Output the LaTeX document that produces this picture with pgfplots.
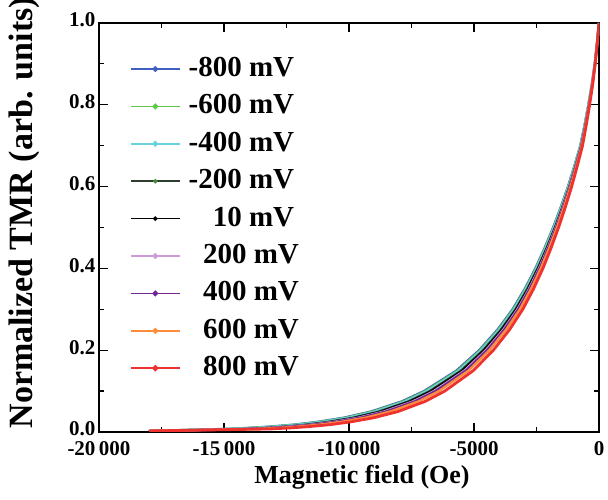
\documentclass[border=0pt]{standalone}
\usepackage{fontspec}
\setmainfont{Liberation Serif}
\usepackage{pgfplots}
\usepackage{pgfplotstable}
\pgfplotsset{compat=1.18}

\definecolor{cA}{RGB}{65,95,195}
\definecolor{cB}{RGB}{95,200,75}
\definecolor{cC}{RGB}{105,210,222}
\definecolor{cD}{RGB}{45,60,45}
\definecolor{cE}{RGB}{0,0,0}
\definecolor{cF}{RGB}{205,155,215}
\definecolor{cG}{RGB}{115,40,145}
\definecolor{cH}{RGB}{255,140,60}
\definecolor{cI}{RGB}{238,50,48}

% y, then field (Oe) of each bias: -800,-600,-400,-200,10,200,400,600,800 mV
\pgfplotstableread{
y      a      b      c      d      e      f      g      h      i
1.000  0      0      0      0      0      0      0      0      0
0.950  -80    -79    -78    -77    -77    -75    -74    -73    -70
0.900  -170   -168   -166   -165   -163   -160   -158   -155   -150
0.850  -286   -284   -281   -278   -275   -270   -267   -262   -252
0.800  -424   -420   -416   -412   -408   -400   -396   -388   -374
0.750  -578   -572   -567   -561   -556   -545   -540   -529   -510
0.700  -747   -740   -733   -726   -719   -705   -698   -684   -659
0.650  -986   -977   -967   -958   -949   -930   -921   -902   -870
0.600  -1240  -1229  -1217  -1205  -1193  -1170  -1158  -1135  -1094
0.550  -1526  -1512  -1498  -1483  -1469  -1440  -1426  -1397  -1346
0.500  -1834  -1817  -1799  -1782  -1765  -1730  -1713  -1678  -1618
0.450  -2173  -2153  -2132  -2112  -2091  -2050  -2030  -1989  -1917
0.400  -2544  -2520  -2496  -2472  -2448  -2400  -2376  -2328  -2244
0.350  -2968  -2940  -2912  -2884  -2856  -2800  -2772  -2716  -2618
0.300  -3456  -3423  -3390  -3358  -3325  -3260  -3227  -3162  -3048
0.250  -4060  -4022  -3983  -3945  -3907  -3830  -3792  -3715  -3581
0.200  -4791  -4746  -4701  -4656  -4610  -4520  -4475  -4384  -4226
0.150  -5703  -5649  -5595  -5541  -5488  -5380  -5326  -5219  -5030
0.100  -6996  -6930  -6864  -6798  -6732  -6600  -6534  -6402  -6171
0.075  -7876  -7802  -7727  -7653  -7579  -7430  -7356  -7207  -6947
0.050  -9116  -9030  -8944  -8858  -8772  -8600  -8514  -8342  -8041
0.035  -10197 -10101 -10005 -9909  -9812  -9620  -9524  -9331  -8995
0.025  -11225 -11120 -11014 -10908 -10802 -10590 -10484 -10272 -9902
0.018  -12190 -12075 -11960 -11845 -11730 -11500 -11385 -11155 -10753
0.013  -13197 -13073 -12948 -12824 -12699 -12450 -12326 -12077 -11641
0.010  -13992 -13860 -13728 -13596 -13464 -13200 -13068 -12804 -12342
0.0075 -14893 -14753 -14612 -14472 -14331 -14050 -13910 -13629 -13137
0.0025 -18000 -18000 -18000 -18000 -18000 -18000 -18000 -18000 -18000
}\tmrdata

\begin{document}
\begin{tikzpicture}
\path[use as bounding box, clip] (0bp,0bp) rectangle (608bp,500bp);
\begin{axis}[
  at={(99bp,68bp)}, anchor=south west,
  scale only axis, width=500bp, height=409bp,
  xmin=-20000, xmax=0, ymin=0, ymax=1,
  scaled x ticks=false, scaled y ticks=false,
  axis line style={line width=1.4bp},
  every tick/.style={line width=1.2bp, black},
  tick align=inside,
  major tick length=9bp, minor tick length=5bp,
  xtick={-20000,-15000,-10000,-5000,0},
  xticklabels={-20\,000,-15\,000,-10\,000,-5000,0},
  ytick={0,0.2,0.4,0.6,0.8,1.0},
  yticklabels={0.0,0.2,0.4,0.6,0.8,1.0},
  minor x tick num=1, minor y tick num=1,
  ticklabel style={font=\fontsize{21bp}{21bp}\selectfont\bfseries},
  xticklabel style={yshift=-6bp},
  yticklabel style={yshift=3bp},
  xlabel={Magnetic field (Oe)},
  xlabel style={font=\fontsize{26bp}{26bp}\selectfont\bfseries,
    at={(axis description cs:0.526,0)}, anchor=base, yshift=-51bp},
  ylabel={Normalized TMR (arb. units)},
  ylabel style={font=\fontsize{34bp}{34bp}\selectfont\bfseries,
    at={(axis description cs:-0.132,0)}, anchor=base west, rotate=0},
  legend cell align=left,
  legend style={draw=none, fill=none, inner sep=0pt, outer sep=0pt,
    at={(axis description cs:0.062,0.9205)}, anchor=north west,
    font=\fontsize{29bp}{29bp}\selectfont\bfseries,
    nodes={inner sep=0pt, text height=21bp, text depth=6bp},
    column sep=8bp, row sep=10.4bp},
  legend image code/.code={
    \draw[line width=1.6bp] (0bp,0bp) -- (49bp,0bp);
    \fill (24.5bp,0bp) circle[radius=1.5bp];
  },
  every axis plot/.append style={line width=2.4bp, no marks},
]
\addplot[cA] table[x=a, y=y] {\tmrdata};
\addlegendentry{-800 mV}
\addplot[cB] table[x=b, y=y] {\tmrdata};
\addlegendentry{-600 mV}
\addplot[cC] table[x=c, y=y] {\tmrdata};
\addlegendentry{-400 mV}
\addplot[cD, line width=1.4bp, legend image code/.code={
    \draw[line width=1.6bp] (0bp,0bp) -- (49bp,0bp);
    \fill[cB!70!black] (24.5bp,0bp) circle[radius=1.5bp];}] table[x=d, y=y] {\tmrdata};
\addlegendentry{-200 mV}
\addplot[cE, line width=1.4bp] table[x=e, y=y] {\tmrdata};
\addlegendentry{\hphantom{-8}10 mV}
\addplot[cF] table[x=f, y=y] {\tmrdata};
\addlegendentry{\hphantom{-}\,200 mV}
\addplot[cG] table[x=g, y=y] {\tmrdata};
\addlegendentry{\hphantom{-}\,400 mV}
\addplot[cH] table[x=h, y=y] {\tmrdata};
\addlegendentry{\hphantom{-}\,600 mV}
\addplot[cI, line width=2.8bp] table[x=i, y=y] {\tmrdata};
\addlegendentry{\hphantom{-}\,800 mV}
\node[font=\fontsize{26bp}{26bp}\selectfont\bfseries, anchor=base]
  at (axis description cs:0.526,1.0489) {Magnetic field (Oe)};
\end{axis}
\end{tikzpicture}
\end{document}
